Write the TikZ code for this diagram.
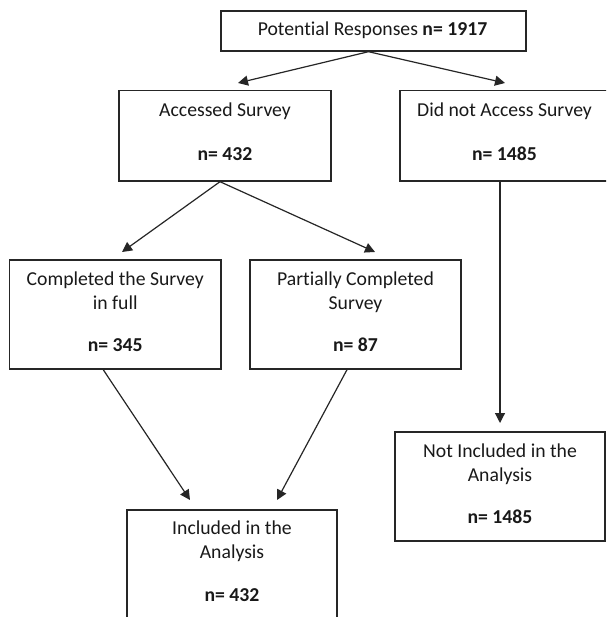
\documentclass[tikz,border=0pt]{standalone}
\usepackage{fontspec}
\setmainfont[RawFeature={-liga;-clig;-calt;-dlig}]{Carlito}
\usetikzlibrary{arrows.meta,calc}
\begin{document}
\begin{tikzpicture}[x=1pt,y=-1pt,
  box/.style={draw=black!85,line width=1.4pt,inner sep=0pt,rectangle},
  txt/.style={anchor=base,inner sep=0pt,text=black!90,font=\fontsize{19.7}{24}\selectfont},
  arr/.style={draw=black!85,line width=1.2pt,-{Triangle[length=10pt,width=10pt]}}]
\clip (0,0) rectangle (606,617);
\fill[white] (0,0) rectangle (606,617);
% boxes
\node[box,minimum width=305pt,minimum height=40pt] (top) at (373.5,31) {};
\node[box,minimum width=212pt,minimum height=90.5pt] (acc) at (225,135.75) {};
\node[box,minimum width=210pt,minimum height=90.5pt] (dna) at (505,135.75) {};
\node[box,minimum width=211.5pt,minimum height=109pt] (comp) at (115.25,314.5) {};
\node[box,minimum width=211pt,minimum height=109pt] (part) at (355.5,314.5) {};
\node[box,minimum width=210pt,minimum height=109pt] (notinc) at (500,486.5) {};
\node[box,minimum width=210pt,minimum height=120pt] (inc) at (232,570) {};
% texts
\node[txt] (topt) at (372.5,35.5) {Potent\kern0pt ial Responses \textbf{n= 1917}};
\node[txt] (acct1) at (225,117) {Accessed Survey};
\node[txt] (acct2) at (225,161) {\textbf{n= 432}};
\node[txt] (dnat1) at (504.5,117) {Did not Access Survey};
\node[txt] (dnat2) at (504.5,161) {\textbf{n= 1485}};
\node[txt] (compt1) at (115.25,285.5) {Completed the Survey};
\node[txt] (compt2) at (115.25,309.5) {in full};
\node[txt] (compt3) at (115.25,351) {\textbf{n= 345}};
\node[txt] (partt1) at (355.5,285.5) {Partially Completed};
\node[txt] (partt2) at (355.5,309.5) {Survey};
\node[txt] (partt3) at (355.5,351) {\textbf{n= 87}};
\node[txt] (notinct1) at (500,457) {Not Included in the};
\node[txt] (notinct2) at (500,481) {Analysis};
\node[txt] (notinct3) at (500,523) {\textbf{n= 1485}};
\node[txt] (inct1) at (232,534) {Included in the};
\node[txt] (inct2) at (232,558) {Analysis};
\node[txt] (inct3) at (232,601) {\textbf{n= 432}};
% arrow ends
\coordinate (e1) at (238,83);
\coordinate (e2) at (505,83);
\coordinate (e3) at (122,252);
\coordinate (e4) at (375,252);
\coordinate (e5) at (190,500);
\coordinate (e6) at (277,500);
\coordinate (e7) at (500,423);
% connectors
\draw[arr] ($(top.south)+(-5,0)$) -- (e1);
\draw[arr] ($(top.south)+(-5,0)$) -- (e2);
\draw[arr] ($(acc.south)+(-5,0)$) -- (e3);
\draw[arr] ($(acc.south)+(-5,0)$) -- (e4);
\draw[arr] ($(comp.south)+(-12,0)$) -- (e5);
\draw[arr] ($(part.south)+(-8.5,0)$) -- (e6);
\draw[arr] (dna.south -| e7) -- (e7);
\end{tikzpicture}
\end{document}
